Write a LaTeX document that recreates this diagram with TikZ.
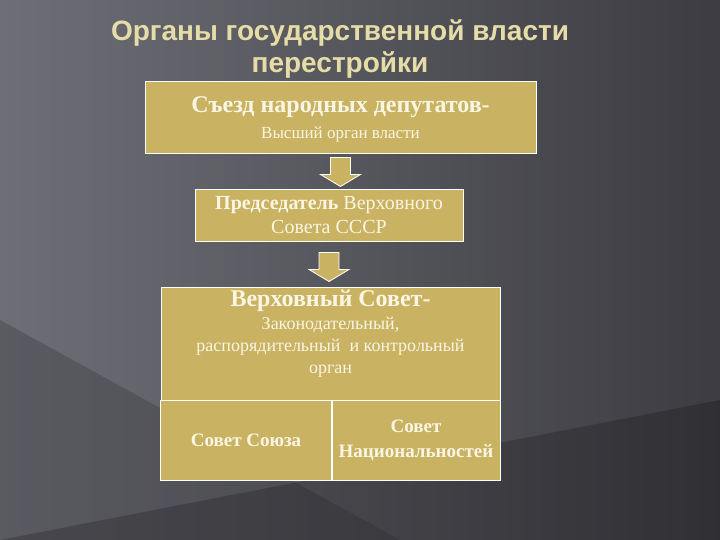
\documentclass[tikz,border=0pt]{standalone}
\usepackage{fontspec}
\setmainfont{Liberation Serif}
\newfontfamily\titlefont{Liberation Sans}
\definecolor{bgdark}{HTML}{3C3C42}
\definecolor{bglight}{HTML}{6E6E76}
\definecolor{boxfill}{HTML}{C9B262}
\definecolor{txt}{HTML}{FBF6E4}
\definecolor{ttl}{HTML}{E6DCA8}
\begin{document}
\begin{tikzpicture}[x=1pt,y=-1pt,
  box/.style={draw=white,line width=1pt,fill=boxfill,text=txt,align=center},
  arr/.style={draw=white,line width=0.8pt,fill=boxfill}]
\useasboundingbox (0,0) rectangle (720,540);
\shade[left color=bglight,right color=bgdark] (0,0) rectangle (720,540);
\fill[bgdark,opacity=0.4] (0,320) -- (0,540) -- (400,540) -- cycle;
\fill[black,opacity=0.2] (0,540) -- (720,540) -- (720,400) -- cycle;
% title
\node (title) at (340,49) [text=ttl,font=\titlefont\bfseries\fontsize{28}{32}\selectfont,align=center] {Органы государственной власти\\перестройки};
% boxes
\node (b1) [box,minimum width=391,minimum height=72] at (340.5,118) {};
\node (b1a) at (340.5,107) [text=txt,font=\bfseries\fontsize{24}{28}\selectfont] {Съезд народных депутатов-};
\node (b1b) at (340.5,134) [text=txt,font=\fontsize{17}{20}\selectfont] {Высший орган власти};
\node (b2) [box,minimum width=268,minimum height=51,font=\fontsize{20}{24}\selectfont] at (329,215.5) {\textbf{Председатель} Верховного\\Совета СССР};
\node (b3) [box,minimum width=339,minimum height=113] at (330.5,343.5) {};
\node (b3a) at (330.5,301) [text=txt,font=\bfseries\fontsize{24}{28}\selectfont] {Верховный Совет-};
\node (b3b) at (330.5,347) [text=txt,align=center,font=\fontsize{18}{22}\selectfont] {Законодательный,\\распорядительный\ \ и контрольный\\орган};
\node (b4) [box,minimum width=171,minimum height=80,font=\bfseries\fontsize{19}{24}\selectfont] at (246,440) {Совет Союза};
\node (b5) [box,minimum width=168,minimum height=80,font=\bfseries\fontsize{19}{25}\selectfont] at (416,440) {Совет\\Национальностей};
% arrows
\draw[arr] (b1.south) ++(-10,3) -- ++(20,0) -- ++(0,17) -- ++(10,0) -- ++(-20,12) -- ++(-20,-12) -- ++(10,0) -- cycle;
\draw[arr] (b2.south) ++(-10,11) -- ++(20,0) -- ++(0,17) -- ++(10,0) -- ++(-20,12) -- ++(-20,-12) -- ++(10,0) -- cycle;
\end{tikzpicture}
\end{document}
